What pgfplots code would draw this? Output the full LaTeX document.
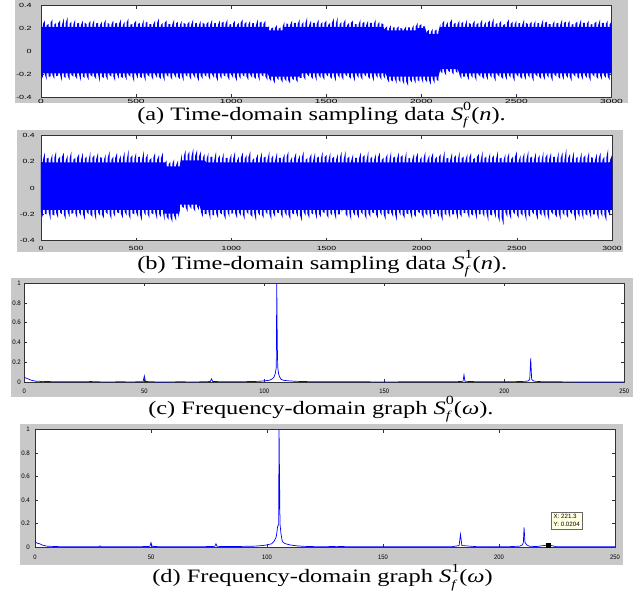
\documentclass[border=0pt]{standalone}
\usepackage{pgfplots}
\pgfplotsset{compat=1.18}
\usepackage{pgfplotstable}
\usepackage{graphicx}
\usepackage{fontspec}
\setmainfont{Liberation Serif}
\newfontfamily\tickfont{Liberation Sans}
\definecolor{mgray}{RGB}{200,200,200}
\definecolor{tipbg}{RGB}{255,255,225}
\definecolor{mblue}{RGB}{0,0,255}
\newcommand{\tla}{\tickfont\fontsize{6}{6}\selectfont}
\newcommand{\tlc}{\tickfont\fontsize{6.5}{6.5}\selectfont}
\newcommand{\Sf}[1]{\textit{S}\makebox[0pt][l]{\raisebox{-0.28em}{\fontsize{12}{12}\selectfont\textit{f}}}\raisebox{0.55em}{\fontsize{12.5}{12.5}\selectfont #1}}

% ---------- panel (a): main spikes (upper then lower) ----------
\pgfplotstableread[row sep=\\]{
x y\\
0 0.26\\ 20 0.27\\ 40 0.24\\ 60 0.28\\ 80 0.25\\ 100 0.27\\ 120 0.29\\ 140 0.30\\ 160 0.26\\ 180 0.28\\
200 0.25\\ 220 0.27\\ 240 0.24\\ 260 0.27\\ 280 0.28\\ 300 0.25\\ 320 0.26\\ 340 0.28\\ 360 0.24\\ 380 0.27\\
400 0.25\\ 420 0.28\\ 440 0.26\\ 460 0.29\\ 480 0.24\\ 500 0.27\\ 520 0.25\\ 540 0.28\\ 560 0.26\\ 580 0.24\\
600 0.27\\ 620 0.29\\ 640 0.25\\ 660 0.27\\ 680 0.24\\ 700 0.28\\ 720 0.26\\ 740 0.27\\ 760 0.24\\ 780 0.26\\
800 0.28\\ 820 0.25\\ 840 0.27\\ 860 0.24\\ 880 0.26\\ 900 0.28\\ 920 0.25\\ 940 0.27\\ 960 0.26\\ 980 0.28\\
1000 0.24\\ 1020 0.27\\ 1040 0.25\\ 1060 0.28\\ 1080 0.26\\ 1100 0.27\\ 1120 0.25\\ 1140 0.28\\ 1160 0.26\\ 1180 0.27\\
1200 0.22\\ 1220 0.21\\ 1240 0.23\\ 1260 0.21\\ 1280 0.26\\ 1300 0.24\\ 1320 0.27\\ 1340 0.25\\ 1360 0.28\\ 1380 0.26\\
1400 0.30\\ 1420 0.27\\ 1440 0.25\\ 1460 0.28\\ 1480 0.26\\ 1500 0.27\\ 1520 0.25\\ 1540 0.29\\ 1560 0.30\\ 1580 0.26\\
1600 0.28\\ 1620 0.25\\ 1640 0.27\\ 1660 0.24\\ 1680 0.28\\ 1700 0.26\\ 1720 0.27\\ 1740 0.25\\ 1760 0.28\\ 1780 0.26\\
1800 0.24\\ 1820 0.22\\ 1840 0.23\\ 1860 0.21\\ 1880 0.22\\ 1900 0.20\\ 1920 0.22\\ 1940 0.21\\ 1960 0.23\\ 1980 0.25\\
2000 0.24\\ 2020 0.22\\ 2040 0.19\\ 2060 0.20\\ 2080 0.19\\ 2100 0.24\\ 2120 0.27\\ 2140 0.26\\ 2160 0.28\\ 2180 0.25\\
2200 0.27\\ 2220 0.26\\ 2240 0.28\\ 2260 0.24\\ 2280 0.27\\ 2300 0.25\\ 2320 0.28\\ 2340 0.26\\ 2360 0.27\\ 2380 0.29\\
2400 0.25\\ 2420 0.27\\ 2440 0.24\\ 2460 0.28\\ 2480 0.26\\ 2500 0.27\\ 2520 0.25\\ 2540 0.28\\ 2560 0.24\\ 2580 0.26\\
2600 0.27\\ 2620 0.25\\ 2640 0.28\\ 2660 0.26\\ 2680 0.24\\ 2700 0.27\\ 2720 0.25\\ 2740 0.28\\ 2760 0.26\\ 2780 0.27\\
2800 0.24\\ 2820 0.26\\ 2840 0.28\\ 2860 0.25\\ 2880 0.27\\ 2900 0.24\\ 2920 0.26\\ 2940 0.28\\ 2960 0.25\\ 2980 0.27\\
3000 0.26\\
10 -0.23\\ 30 -0.25\\ 50 -0.22\\ 70 -0.24\\ 90 -0.21\\ 110 -0.26\\ 130 -0.23\\ 150 -0.25\\ 170 -0.22\\ 190 -0.24\\
210 -0.26\\ 230 -0.23\\ 250 -0.25\\ 270 -0.22\\ 290 -0.24\\ 310 -0.27\\ 330 -0.23\\ 350 -0.25\\ 370 -0.22\\ 390 -0.26\\
410 -0.24\\ 430 -0.23\\ 450 -0.25\\ 470 -0.22\\ 490 -0.27\\ 510 -0.24\\ 530 -0.23\\ 550 -0.26\\ 570 -0.22\\ 590 -0.25\\
610 -0.23\\ 630 -0.24\\ 650 -0.26\\ 670 -0.22\\ 690 -0.25\\ 710 -0.23\\ 730 -0.24\\ 750 -0.26\\ 770 -0.22\\ 790 -0.25\\
810 -0.23\\ 830 -0.26\\ 850 -0.24\\ 870 -0.22\\ 890 -0.25\\ 910 -0.23\\ 930 -0.26\\ 950 -0.24\\ 970 -0.22\\ 990 -0.25\\
1010 -0.23\\ 1030 -0.26\\ 1050 -0.24\\ 1070 -0.22\\ 1090 -0.25\\ 1110 -0.23\\ 1130 -0.24\\ 1150 -0.26\\ 1170 -0.22\\ 1190 -0.25\\
1210 -0.26\\ 1230 -0.28\\ 1250 -0.25\\ 1270 -0.27\\ 1290 -0.26\\ 1310 -0.28\\ 1330 -0.25\\ 1350 -0.27\\ 1370 -0.23\\ 1390 -0.25\\
1410 -0.22\\ 1430 -0.24\\ 1450 -0.26\\ 1470 -0.23\\ 1490 -0.25\\ 1510 -0.22\\ 1530 -0.24\\ 1550 -0.26\\ 1570 -0.23\\ 1590 -0.25\\
1610 -0.22\\ 1630 -0.24\\ 1650 -0.26\\ 1670 -0.23\\ 1690 -0.25\\ 1710 -0.22\\ 1730 -0.24\\ 1750 -0.26\\ 1770 -0.23\\ 1790 -0.25\\
1810 -0.24\\ 1830 -0.27\\ 1850 -0.26\\ 1870 -0.28\\ 1890 -0.27\\ 1910 -0.29\\ 1930 -0.30\\ 1950 -0.27\\ 1970 -0.28\\ 1990 -0.26\\
2010 -0.28\\ 2030 -0.27\\ 2050 -0.29\\ 2070 -0.28\\ 2090 -0.26\\ 2110 -0.19\\ 2130 -0.21\\ 2150 -0.18\\ 2170 -0.20\\ 2190 -0.19\\
2210 -0.24\\ 2230 -0.22\\ 2250 -0.25\\ 2270 -0.23\\ 2290 -0.26\\ 2310 -0.22\\ 2330 -0.24\\ 2350 -0.25\\ 2370 -0.23\\ 2390 -0.26\\
2410 -0.22\\ 2430 -0.24\\ 2450 -0.25\\ 2470 -0.23\\ 2490 -0.26\\ 2510 -0.22\\ 2530 -0.24\\ 2550 -0.25\\ 2570 -0.23\\ 2590 -0.26\\
2610 -0.22\\ 2630 -0.24\\ 2650 -0.25\\ 2670 -0.23\\ 2690 -0.26\\ 2710 -0.22\\ 2730 -0.24\\ 2750 -0.25\\ 2770 -0.23\\ 2790 -0.26\\
2810 -0.22\\ 2830 -0.24\\ 2850 -0.25\\ 2870 -0.23\\ 2890 -0.26\\ 2910 -0.22\\ 2930 -0.24\\ 2950 -0.25\\ 2970 -0.23\\ 2990 -0.25\\
}\spikesA

% ---------- panel (a): small spikes between (upper then lower) ----------
\pgfplotstableread[row sep=\\]{
x y\\
10 0.24\\ 30 0.23\\ 50 0.25\\ 70 0.235\\ 90 0.245\\ 110 0.23\\ 130 0.25\\ 150 0.24\\ 170 0.235\\ 190 0.245\\
210 0.23\\ 230 0.25\\ 250 0.24\\ 270 0.235\\ 290 0.245\\ 310 0.23\\ 330 0.24\\ 350 0.25\\ 370 0.235\\ 390 0.245\\
410 0.24\\ 430 0.23\\ 450 0.25\\ 470 0.235\\ 490 0.245\\ 510 0.24\\ 530 0.23\\ 550 0.25\\ 570 0.24\\ 590 0.235\\
610 0.245\\ 630 0.23\\ 650 0.25\\ 670 0.24\\ 690 0.235\\ 710 0.245\\ 730 0.23\\ 750 0.25\\ 770 0.24\\ 790 0.235\\
810 0.245\\ 830 0.23\\ 850 0.25\\ 870 0.24\\ 890 0.235\\ 910 0.245\\ 930 0.23\\ 950 0.25\\ 970 0.24\\ 990 0.235\\
1010 0.245\\ 1030 0.23\\ 1050 0.25\\ 1070 0.24\\ 1090 0.235\\ 1110 0.245\\ 1130 0.23\\ 1150 0.25\\ 1170 0.24\\ 1190 0.21\\
1210 0.20\\ 1230 0.205\\ 1250 0.20\\ 1270 0.21\\ 1290 0.245\\ 1310 0.23\\ 1330 0.25\\ 1350 0.24\\ 1370 0.235\\ 1390 0.245\\
1410 0.23\\ 1430 0.25\\ 1450 0.24\\ 1470 0.235\\ 1490 0.245\\ 1510 0.23\\ 1530 0.25\\ 1550 0.24\\ 1570 0.235\\ 1590 0.245\\
1610 0.23\\ 1630 0.25\\ 1650 0.24\\ 1670 0.235\\ 1690 0.245\\ 1710 0.23\\ 1730 0.25\\ 1750 0.24\\ 1770 0.235\\ 1790 0.245\\
1810 0.205\\ 1830 0.20\\ 1850 0.21\\ 1870 0.20\\ 1890 0.205\\ 1910 0.195\\ 1930 0.21\\ 1950 0.20\\ 1970 0.215\\ 1990 0.225\\
2010 0.22\\ 2030 0.175\\ 2050 0.17\\ 2070 0.18\\ 2090 0.175\\ 2110 0.245\\ 2130 0.23\\ 2150 0.25\\ 2170 0.24\\ 2190 0.235\\
2210 0.245\\ 2230 0.23\\ 2250 0.25\\ 2270 0.24\\ 2290 0.235\\ 2310 0.245\\ 2330 0.23\\ 2350 0.25\\ 2370 0.24\\ 2390 0.235\\
2410 0.245\\ 2430 0.23\\ 2450 0.25\\ 2470 0.24\\ 2490 0.235\\ 2510 0.245\\ 2530 0.23\\ 2550 0.25\\ 2570 0.24\\ 2590 0.235\\
2610 0.245\\ 2630 0.23\\ 2650 0.25\\ 2670 0.24\\ 2690 0.235\\ 2710 0.245\\ 2730 0.23\\ 2750 0.25\\ 2770 0.24\\ 2790 0.235\\
2810 0.245\\ 2830 0.23\\ 2850 0.25\\ 2870 0.24\\ 2890 0.235\\ 2910 0.245\\ 2930 0.23\\ 2950 0.25\\ 2970 0.24\\ 2990 0.235\\
0 -0.21\\ 20 -0.20\\ 40 -0.22\\ 60 -0.205\\ 80 -0.215\\ 100 -0.20\\ 120 -0.22\\ 140 -0.21\\ 160 -0.205\\ 180 -0.215\\
200 -0.20\\ 220 -0.22\\ 240 -0.21\\ 260 -0.205\\ 280 -0.215\\ 300 -0.20\\ 320 -0.22\\ 340 -0.21\\ 360 -0.205\\ 380 -0.215\\
400 -0.20\\ 420 -0.22\\ 440 -0.21\\ 460 -0.205\\ 480 -0.215\\ 500 -0.20\\ 520 -0.22\\ 540 -0.21\\ 560 -0.205\\ 580 -0.215\\
600 -0.20\\ 620 -0.22\\ 640 -0.21\\ 660 -0.205\\ 680 -0.215\\ 700 -0.20\\ 720 -0.22\\ 740 -0.21\\ 760 -0.205\\ 780 -0.215\\
800 -0.20\\ 820 -0.22\\ 840 -0.21\\ 860 -0.205\\ 880 -0.215\\ 900 -0.20\\ 920 -0.22\\ 940 -0.21\\ 960 -0.205\\ 980 -0.215\\
1000 -0.20\\ 1020 -0.22\\ 1040 -0.21\\ 1060 -0.205\\ 1080 -0.215\\ 1100 -0.20\\ 1120 -0.22\\ 1140 -0.21\\ 1160 -0.205\\ 1180 -0.215\\
1200 -0.235\\ 1220 -0.245\\ 1240 -0.23\\ 1260 -0.24\\ 1280 -0.235\\ 1300 -0.25\\ 1320 -0.235\\ 1340 -0.245\\ 1360 -0.23\\ 1380 -0.215\\
1400 -0.20\\ 1420 -0.22\\ 1440 -0.21\\ 1460 -0.205\\ 1480 -0.215\\ 1500 -0.20\\ 1520 -0.22\\ 1540 -0.21\\ 1560 -0.205\\ 1580 -0.215\\
1600 -0.20\\ 1620 -0.22\\ 1640 -0.21\\ 1660 -0.205\\ 1680 -0.215\\ 1700 -0.20\\ 1720 -0.22\\ 1740 -0.21\\ 1760 -0.205\\ 1780 -0.215\\
1800 -0.21\\ 1820 -0.24\\ 1840 -0.25\\ 1860 -0.235\\ 1880 -0.245\\ 1900 -0.25\\ 1920 -0.26\\ 1940 -0.245\\ 1960 -0.24\\ 1980 -0.25\\
2000 -0.235\\ 2020 -0.245\\ 2040 -0.25\\ 2060 -0.24\\ 2080 -0.245\\ 2100 -0.17\\ 2120 -0.175\\ 2140 -0.165\\ 2160 -0.18\\ 2180 -0.17\\
2200 -0.20\\ 2220 -0.22\\ 2240 -0.21\\ 2260 -0.205\\ 2280 -0.215\\ 2300 -0.20\\ 2320 -0.22\\ 2340 -0.21\\ 2360 -0.205\\ 2380 -0.215\\
2400 -0.20\\ 2420 -0.22\\ 2440 -0.21\\ 2460 -0.205\\ 2480 -0.215\\ 2500 -0.20\\ 2520 -0.22\\ 2540 -0.21\\ 2560 -0.205\\ 2580 -0.215\\
2600 -0.20\\ 2620 -0.22\\ 2640 -0.21\\ 2660 -0.205\\ 2680 -0.215\\ 2700 -0.20\\ 2720 -0.22\\ 2740 -0.21\\ 2760 -0.205\\ 2780 -0.215\\
2800 -0.20\\ 2820 -0.22\\ 2840 -0.21\\ 2860 -0.205\\ 2880 -0.215\\ 2900 -0.20\\ 2920 -0.22\\ 2940 -0.21\\ 2960 -0.205\\ 2980 -0.215\\
3000 -0.21\\
}\smallA

% ---------- panel (b): main spikes ----------
\pgfplotstableread[row sep=\\]{
x y\\
0 0.25\\ 20 0.27\\ 40 0.23\\ 60 0.26\\ 80 0.28\\ 100 0.24\\ 120 0.27\\ 140 0.25\\ 160 0.28\\ 180 0.23\\
200 0.26\\ 220 0.27\\ 240 0.24\\ 260 0.28\\ 280 0.25\\ 300 0.27\\ 320 0.23\\ 340 0.26\\ 360 0.28\\ 380 0.24\\
400 0.27\\ 420 0.25\\ 440 0.28\\ 460 0.29\\ 480 0.25\\ 500 0.27\\ 520 0.24\\ 540 0.28\\ 560 0.26\\ 580 0.23\\
600 0.27\\ 620 0.25\\ 640 0.27\\ 660 0.21\\ 680 0.20\\ 700 0.22\\ 720 0.21\\ 740 0.26\\ 760 0.29\\ 780 0.28\\
800 0.30\\ 820 0.29\\ 840 0.28\\ 860 0.26\\ 880 0.27\\ 900 0.24\\ 920 0.28\\ 940 0.25\\ 960 0.27\\ 980 0.23\\
1000 0.26\\ 1020 0.28\\ 1040 0.24\\ 1060 0.27\\ 1080 0.25\\ 1100 0.28\\ 1120 0.23\\ 1140 0.26\\ 1160 0.27\\ 1180 0.24\\
1200 0.28\\ 1220 0.25\\ 1240 0.27\\ 1260 0.23\\ 1280 0.26\\ 1300 0.28\\ 1320 0.24\\ 1340 0.27\\ 1360 0.25\\ 1380 0.28\\
1400 0.23\\ 1420 0.26\\ 1440 0.27\\ 1460 0.24\\ 1480 0.28\\ 1500 0.25\\ 1520 0.27\\ 1540 0.24\\ 1560 0.26\\ 1580 0.28\\
1600 0.28\\ 1620 0.24\\ 1640 0.26\\ 1660 0.23\\ 1680 0.27\\ 1700 0.25\\ 1720 0.28\\ 1740 0.24\\ 1760 0.26\\ 1780 0.27\\
1800 0.23\\ 1820 0.26\\ 1840 0.28\\ 1860 0.24\\ 1880 0.27\\ 1900 0.25\\ 1920 0.28\\ 1940 0.23\\ 1960 0.26\\ 1980 0.27\\
2000 0.24\\ 2020 0.28\\ 2040 0.25\\ 2060 0.27\\ 2080 0.24\\ 2100 0.26\\ 2120 0.28\\ 2140 0.23\\ 2160 0.27\\ 2180 0.25\\
2200 0.28\\ 2220 0.24\\ 2240 0.26\\ 2260 0.27\\ 2280 0.23\\ 2300 0.26\\ 2320 0.28\\ 2340 0.24\\ 2360 0.27\\ 2380 0.25\\
2400 0.28\\ 2420 0.23\\ 2440 0.26\\ 2460 0.27\\ 2480 0.24\\ 2500 0.28\\ 2520 0.25\\ 2540 0.27\\ 2560 0.28\\ 2580 0.24\\
2600 0.27\\ 2620 0.25\\ 2640 0.28\\ 2660 0.26\\ 2680 0.27\\ 2700 0.24\\ 2720 0.28\\ 2740 0.27\\ 2760 0.30\\ 2780 0.26\\
2800 0.28\\ 2820 0.24\\ 2840 0.27\\ 2860 0.25\\ 2880 0.28\\ 2900 0.23\\ 2920 0.26\\ 2940 0.27\\ 2960 0.24\\ 2980 0.30\\
3000 0.25\\
10 -0.22\\ 30 -0.20\\ 50 -0.24\\ 70 -0.21\\ 90 -0.23\\ 110 -0.20\\ 130 -0.24\\ 150 -0.22\\ 170 -0.19\\ 190 -0.23\\
210 -0.21\\ 230 -0.24\\ 250 -0.20\\ 270 -0.22\\ 290 -0.25\\ 310 -0.21\\ 330 -0.23\\ 350 -0.20\\ 370 -0.24\\ 390 -0.22\\
410 -0.19\\ 430 -0.23\\ 450 -0.21\\ 470 -0.24\\ 490 -0.20\\ 510 -0.22\\ 530 -0.25\\ 550 -0.21\\ 570 -0.23\\ 590 -0.20\\
610 -0.24\\ 630 -0.22\\ 650 -0.25\\ 670 -0.24\\ 690 -0.26\\ 710 -0.25\\ 730 -0.17\\ 750 -0.15\\ 770 -0.18\\ 790 -0.16\\
810 -0.18\\ 830 -0.17\\ 850 -0.22\\ 870 -0.20\\ 890 -0.24\\ 910 -0.21\\ 930 -0.23\\ 950 -0.20\\ 970 -0.24\\ 990 -0.22\\
1010 -0.19\\ 1030 -0.23\\ 1050 -0.21\\ 1070 -0.24\\ 1090 -0.20\\ 1110 -0.22\\ 1130 -0.25\\ 1150 -0.21\\ 1170 -0.23\\ 1190 -0.20\\
1210 -0.24\\ 1230 -0.22\\ 1250 -0.19\\ 1270 -0.23\\ 1290 -0.21\\ 1310 -0.24\\ 1330 -0.20\\ 1350 -0.22\\ 1370 -0.25\\ 1390 -0.21\\
1410 -0.23\\ 1430 -0.20\\ 1450 -0.24\\ 1470 -0.22\\ 1490 -0.19\\ 1510 -0.23\\ 1530 -0.21\\ 1550 -0.24\\ 1570 -0.20\\ 1590 -0.15\\
1610 -0.22\\ 1630 -0.25\\ 1650 -0.21\\ 1670 -0.23\\ 1690 -0.20\\ 1710 -0.24\\ 1730 -0.22\\ 1750 -0.19\\ 1770 -0.23\\ 1790 -0.21\\
1810 -0.24\\ 1830 -0.20\\ 1850 -0.22\\ 1870 -0.25\\ 1890 -0.21\\ 1910 -0.23\\ 1930 -0.20\\ 1950 -0.24\\ 1970 -0.22\\ 1990 -0.19\\
2010 -0.23\\ 2030 -0.21\\ 2050 -0.24\\ 2070 -0.20\\ 2090 -0.22\\ 2110 -0.25\\ 2130 -0.21\\ 2150 -0.23\\ 2170 -0.20\\ 2190 -0.24\\
2210 -0.22\\ 2230 -0.19\\ 2250 -0.23\\ 2270 -0.21\\ 2290 -0.24\\ 2310 -0.20\\ 2330 -0.22\\ 2350 -0.25\\ 2370 -0.21\\ 2390 -0.23\\
2410 -0.26\\ 2430 -0.28\\ 2450 -0.22\\ 2470 -0.24\\ 2490 -0.20\\ 2510 -0.23\\ 2530 -0.21\\ 2550 -0.25\\ 2570 -0.22\\ 2590 -0.20\\
2610 -0.24\\ 2630 -0.21\\ 2650 -0.23\\ 2670 -0.25\\ 2690 -0.20\\ 2710 -0.22\\ 2730 -0.24\\ 2750 -0.21\\ 2770 -0.23\\ 2790 -0.20\\
2810 -0.25\\ 2830 -0.22\\ 2850 -0.24\\ 2870 -0.21\\ 2890 -0.23\\ 2910 -0.20\\ 2930 -0.24\\ 2950 -0.22\\ 2970 -0.25\\ 2990 -0.21\\
}\spikesB

% ---------- panel (b): small spikes between ----------
\pgfplotstableread[row sep=\\]{
x y\\
10 0.215\\ 30 0.225\\ 50 0.21\\ 70 0.23\\ 90 0.22\\ 110 0.235\\ 130 0.21\\ 150 0.225\\ 170 0.215\\ 190 0.23\\
210 0.215\\ 230 0.225\\ 250 0.21\\ 270 0.23\\ 290 0.22\\ 310 0.235\\ 330 0.21\\ 350 0.225\\ 370 0.215\\ 390 0.23\\
410 0.215\\ 430 0.225\\ 450 0.21\\ 470 0.23\\ 490 0.22\\ 510 0.235\\ 530 0.21\\ 550 0.225\\ 570 0.215\\ 590 0.23\\
610 0.215\\ 630 0.225\\ 650 0.19\\ 670 0.18\\ 690 0.185\\ 710 0.175\\ 730 0.18\\ 750 0.24\\ 770 0.25\\ 790 0.235\\
810 0.245\\ 830 0.24\\ 850 0.23\\ 870 0.22\\ 890 0.235\\ 910 0.21\\ 930 0.225\\ 950 0.215\\ 970 0.23\\ 990 0.215\\
1010 0.225\\ 1030 0.21\\ 1050 0.23\\ 1070 0.22\\ 1090 0.235\\ 1110 0.21\\ 1130 0.225\\ 1150 0.215\\ 1170 0.23\\ 1190 0.215\\
1210 0.225\\ 1230 0.21\\ 1250 0.23\\ 1270 0.22\\ 1290 0.235\\ 1310 0.21\\ 1330 0.225\\ 1350 0.215\\ 1370 0.23\\ 1390 0.215\\
1410 0.225\\ 1430 0.21\\ 1450 0.23\\ 1470 0.22\\ 1490 0.235\\ 1510 0.21\\ 1530 0.225\\ 1550 0.215\\ 1570 0.23\\ 1590 0.215\\
1610 0.225\\ 1630 0.21\\ 1650 0.23\\ 1670 0.22\\ 1690 0.235\\ 1710 0.21\\ 1730 0.225\\ 1750 0.215\\ 1770 0.23\\ 1790 0.215\\
1810 0.225\\ 1830 0.21\\ 1850 0.23\\ 1870 0.22\\ 1890 0.235\\ 1910 0.21\\ 1930 0.225\\ 1950 0.215\\ 1970 0.23\\ 1990 0.215\\
2010 0.225\\ 2030 0.21\\ 2050 0.23\\ 2070 0.22\\ 2090 0.235\\ 2110 0.21\\ 2130 0.225\\ 2150 0.215\\ 2170 0.23\\ 2190 0.215\\
2210 0.225\\ 2230 0.21\\ 2250 0.23\\ 2270 0.22\\ 2290 0.235\\ 2310 0.21\\ 2330 0.225\\ 2350 0.215\\ 2370 0.23\\ 2390 0.215\\
2410 0.225\\ 2430 0.21\\ 2450 0.23\\ 2470 0.22\\ 2490 0.235\\ 2510 0.21\\ 2530 0.225\\ 2550 0.215\\ 2570 0.23\\ 2590 0.215\\
2610 0.225\\ 2630 0.21\\ 2650 0.23\\ 2670 0.22\\ 2690 0.235\\ 2710 0.21\\ 2730 0.225\\ 2750 0.215\\ 2770 0.23\\ 2790 0.215\\
2810 0.225\\ 2830 0.21\\ 2850 0.23\\ 2870 0.22\\ 2890 0.235\\ 2910 0.21\\ 2930 0.225\\ 2950 0.215\\ 2970 0.23\\ 2990 0.215\\
0 -0.185\\ 20 -0.195\\ 40 -0.18\\ 60 -0.20\\ 80 -0.19\\ 100 -0.185\\ 120 -0.20\\ 140 -0.18\\ 160 -0.195\\ 180 -0.19\\
200 -0.185\\ 220 -0.195\\ 240 -0.18\\ 260 -0.20\\ 280 -0.19\\ 300 -0.185\\ 320 -0.20\\ 340 -0.18\\ 360 -0.195\\ 380 -0.19\\
400 -0.185\\ 420 -0.195\\ 440 -0.18\\ 460 -0.20\\ 480 -0.19\\ 500 -0.185\\ 520 -0.20\\ 540 -0.18\\ 560 -0.195\\ 580 -0.19\\
600 -0.185\\ 620 -0.195\\ 640 -0.18\\ 660 -0.215\\ 680 -0.22\\ 700 -0.21\\ 720 -0.225\\ 740 -0.14\\ 760 -0.145\\ 780 -0.135\\
800 -0.15\\ 820 -0.14\\ 840 -0.18\\ 860 -0.195\\ 880 -0.18\\ 900 -0.20\\ 920 -0.19\\ 940 -0.185\\ 960 -0.20\\ 980 -0.18\\
1000 -0.195\\ 1020 -0.19\\ 1040 -0.185\\ 1060 -0.195\\ 1080 -0.18\\ 1100 -0.20\\ 1120 -0.19\\ 1140 -0.185\\ 1160 -0.20\\ 1180 -0.18\\
1200 -0.195\\ 1220 -0.19\\ 1240 -0.185\\ 1260 -0.195\\ 1280 -0.18\\ 1300 -0.20\\ 1320 -0.19\\ 1340 -0.185\\ 1360 -0.20\\ 1380 -0.18\\
1400 -0.195\\ 1420 -0.19\\ 1440 -0.185\\ 1460 -0.195\\ 1480 -0.18\\ 1500 -0.20\\ 1520 -0.19\\ 1540 -0.185\\ 1560 -0.20\\ 1580 -0.18\\
1600 -0.195\\ 1620 -0.19\\ 1640 -0.185\\ 1660 -0.195\\ 1680 -0.18\\ 1700 -0.20\\ 1720 -0.19\\ 1740 -0.185\\ 1760 -0.20\\ 1780 -0.18\\
1800 -0.195\\ 1820 -0.19\\ 1840 -0.185\\ 1860 -0.195\\ 1880 -0.18\\ 1900 -0.20\\ 1920 -0.19\\ 1940 -0.185\\ 1960 -0.20\\ 1980 -0.18\\
2000 -0.195\\ 2020 -0.19\\ 2040 -0.185\\ 2060 -0.195\\ 2080 -0.18\\ 2100 -0.20\\ 2120 -0.19\\ 2140 -0.185\\ 2160 -0.20\\ 2180 -0.18\\
2200 -0.195\\ 2220 -0.19\\ 2240 -0.185\\ 2260 -0.195\\ 2280 -0.18\\ 2300 -0.20\\ 2320 -0.19\\ 2340 -0.185\\ 2360 -0.20\\ 2380 -0.18\\
2400 -0.21\\ 2420 -0.22\\ 2440 -0.185\\ 2460 -0.195\\ 2480 -0.18\\ 2500 -0.20\\ 2520 -0.19\\ 2540 -0.185\\ 2560 -0.20\\ 2580 -0.18\\
2600 -0.195\\ 2620 -0.19\\ 2640 -0.185\\ 2660 -0.195\\ 2680 -0.18\\ 2700 -0.20\\ 2720 -0.19\\ 2740 -0.185\\ 2760 -0.20\\ 2780 -0.18\\
2800 -0.195\\ 2820 -0.19\\ 2840 -0.185\\ 2860 -0.195\\ 2880 -0.18\\ 2900 -0.20\\ 2920 -0.19\\ 2940 -0.185\\ 2960 -0.20\\ 2980 -0.18\\
3000 -0.19\\
}\smallB

% merge and sort the spike tables by x
\pgfplotstablevertcat{\spikesA}{\smallA}
\pgfplotstablesort[sort key=x]{\sortedA}{\spikesA}
\pgfplotstablevertcat{\spikesB}{\smallB}
\pgfplotstablesort[sort key=x]{\sortedB}{\spikesB}

% ---------- panel (c): spectrum ----------
\pgfplotstableread[row sep=\\]{
x y\\
0 0.05\\ 0.5 0.045\\ 1 0.04\\ 1.5 0.035\\ 2 0.03\\ 3 0.02\\ 4 0.015\\ 5 0.01\\ 6 0.012\\ 7 0.008\\ 8 0.01\\ 9 0.007\\
10 0.008\\ 12 0.006\\ 15 0.005\\ 20 0.005\\ 25 0.005\\ 28 0.008\\ 29 0.005\\ 35 0.004\\ 40 0.005\\ 45 0.004\\
49.5 0.006\\ 50 0.065\\ 50.5 0.008\\ 55 0.004\\ 60 0.004\\ 65 0.005\\ 70 0.004\\ 75 0.005\\ 77.5 0.008\\ 78 0.035\\ 78.5 0.008\\
85 0.005\\ 90 0.006\\ 95 0.008\\ 98 0.01\\ 100 0.015\\ 102 0.02\\ 103 0.03\\ 104 0.05\\ 104.6 0.09\\ 105 0.15\\
105.2 1.0\\ 105.4 0.39\\ 105.6 0.15\\ 106 0.08\\ 106.5 0.05\\ 107 0.03\\ 108 0.02\\ 110 0.015\\ 113 0.01\\ 116 0.008\\
120 0.006\\ 130 0.005\\ 140 0.005\\ 150 0.004\\ 160 0.005\\ 170 0.005\\ 180 0.006\\ 182.8 0.01\\ 183.2 0.075\\ 183.6 0.01\\
190 0.005\\ 200 0.006\\ 205 0.007\\ 209 0.01\\ 210 0.015\\ 210.6 0.03\\ 211 0.24\\ 211.4 0.03\\ 212 0.015\\ 213 0.01\\
216 0.006\\ 220 0.005\\ 230 0.004\\ 240 0.004\\ 250 0.004\\
}\specC

% ---------- panel (d): spectrum ----------
\pgfplotstableread[row sep=\\]{
x y\\
0 0.05\\ 0.5 0.04\\ 1 0.035\\ 2 0.03\\ 3 0.02\\ 4 0.015\\ 5 0.01\\ 7 0.008\\ 10 0.006\\ 15 0.005\\ 20 0.005\\
27.5 0.005\\ 28 0.012\\ 28.5 0.005\\ 35 0.004\\ 40 0.005\\ 45 0.005\\ 49.5 0.008\\ 50 0.04\\ 50.5 0.008\\ 55 0.004\\
65 0.005\\ 70 0.004\\ 77.5 0.008\\ 78 0.03\\ 78.5 0.008\\ 85 0.006\\ 90 0.008\\ 95 0.01\\ 98 0.015\\ 100 0.02\\
102 0.03\\ 103 0.05\\ 104 0.09\\ 104.6 0.18\\ 105 0.19\\ 105.2 1.0\\ 105.4 0.59\\ 105.6 0.2\\ 106 0.12\\ 106.5 0.06\\
107 0.04\\ 108 0.03\\ 110 0.02\\ 113 0.012\\ 116 0.008\\ 120 0.006\\ 125 0.005\\ 130 0.008\\ 135 0.005\\ 150 0.004\\
160 0.005\\ 170 0.005\\ 180 0.006\\ 182.8 0.015\\ 183.4 0.11\\ 184 0.015\\ 190 0.006\\ 200 0.005\\ 205 0.006\\
209 0.01\\ 210 0.02\\ 210.5 0.04\\ 210.8 0.17\\ 211.2 0.04\\ 212 0.02\\ 213 0.01\\ 216 0.006\\ 221.3 0.0204\\
225 0.004\\ 230 0.004\\ 240 0.004\\ 250 0.004\\
}\specD

\pgfplotsset{
  mstyle/.style={
    scale only axis, anchor=south west, tick align=inside,
    axis background/.style={fill=white},
    axis line style={black!80, line width=0.6bp},
    every tick/.style={black!80, line width=0.5bp},
    major tick length=3bp,
    /pgf/number format/assume math mode=true,
  },
  tstyle/.style={
    xmin=0, xmax=3000, ymin=-0.4, ymax=0.4,
    xtick={0,500,1000,1500,2000,2500,3000},
    xticklabels={0,500,1000,1500,2000,2500,3000},
    ytick={-0.4,-0.2,0,0.2,0.4},
    yticklabels={-0.4,-0.2,0,0.2,0.4},
  },
  fstyle/.style={
    xmin=0, xmax=250, ymin=0, ymax=1,
    xtick={0,50,100,150,200,250},
    xticklabels={0,50,100,150,200,250},
    ytick={0,0.2,0.4,0.6,0.8,1},
    yticklabels={0,0.2,0.4,0.6,0.8,1},
  },
  % upper edge: the lower-edge rows at the same x fall back to 0.1 (inside the solid core)
  bandup/.style={fill=mblue, draw=none, y filter/.expression={y>0 ? y : 0.1}},
  banddown/.style={fill=mblue, draw=none, y filter/.expression={y<0 ? y : -0.1}},
}
\tikzset{captionnode/.style={anchor=west, inner sep=0pt, font=\fontsize{19}{20}\selectfont, xscale=1.29}}

\begin{document}
\begin{tikzpicture}
\path[use as bounding box] (0,0) rectangle (641bp,-599bp);
\fill[white] (0,0) rectangle (641bp,-599bp);
% gray figure backgrounds
\fill[mgray] (15bp,0bp) rectangle (628bp,-103bp);
\fill[mgray] (17bp,-130bp) rectangle (623bp,-252bp);
\fill[mgray] (11bp,-278bp) rectangle (633bp,-397bp);
\fill[mgray] (20bp,-424bp) rectangle (623bp,-565bp);

% (a)
\begin{axis}[mstyle, tstyle, at={(41bp,-97.3bp)}, width=570.5bp, height=91.6bp,
  xticklabel style={font=\tla, inner sep=0pt, yshift=-1.7bp, xscale=1.7},
  yticklabel style={font=\tla, inner sep=0pt, xshift=-9bp, xscale=1.5}]
\addplot[fill=mblue, draw=none] coordinates {(0,0.215) (1190,0.215) (1200,0.185) (1270,0.185) (1280,0.215) (1800,0.215) (1810,0.185) (1970,0.185) (1980,0.205) (2020,0.205) (2030,0.155) (2090,0.155) (2100,0.215) (3000,0.215) (3000,-0.19) (2200,-0.19) (2190,-0.155) (2100,-0.155) (2090,-0.22) (1820,-0.22) (1810,-0.19) (1370,-0.19) (1360,-0.22) (1200,-0.22) (1190,-0.19) (0,-0.19)} -- cycle;
\addplot[bandup] table {\sortedA} \closedcycle;
\addplot[banddown] table {\sortedA} \closedcycle;
\end{axis}

% (b)
\begin{axis}[mstyle, tstyle, at={(41bp,-240.7bp)}, width=571bp, height=105.2bp,
  xticklabel style={font=\tla, inner sep=0pt, yshift=-5.3bp, xscale=1.45},
  yticklabel style={font=\tla, inner sep=0pt, xshift=-6bp, xscale=1.45}]
\addplot[fill=mblue, draw=none] coordinates {(0,0.195) (650,0.195) (660,0.165) (730,0.165) (740,0.21) (860,0.21) (870,0.195) (3000,0.195) (3000,-0.165) (840,-0.165) (830,-0.125) (730,-0.125) (720,-0.195) (650,-0.195) (640,-0.165) (0,-0.165)} -- cycle;
\addplot[bandup] table {\sortedB} \closedcycle;
\addplot[banddown] table {\sortedB} \closedcycle;
\end{axis}

% (c)
\begin{axis}[mstyle, fstyle, at={(24.3bp,-382.3bp)}, width=600bp, height=99.3bp,
  xticklabel style={font=\tlc, inner sep=0pt, yshift=-6bp, xscale=0.9},
  yticklabel style={font=\tlc, inner sep=0pt, xshift=-3.3bp, xscale=0.95}]
\addplot[mblue, line width=0.7bp] table {\specC};
\end{axis}

% (d)
\begin{axis}[mstyle, fstyle, at={(35bp,-547.3bp)}, width=580bp, height=117.8bp,
  xticklabel style={font=\tlc, inner sep=0pt, yshift=-7bp, xscale=0.9},
  yticklabel style={font=\tlc, inner sep=0pt, xshift=-5bp, xscale=0.95}]
\addplot[mblue, line width=0.7bp] table {\specD};
\addplot[only marks, mark=square*, mark size=2.2bp, black] coordinates {(221.3,0.0204)};
\node[draw=black!60, fill=tipbg, anchor=south west, align=left, inner sep=2bp,
  font=\tickfont\fontsize{6.2}{8}\selectfont, xshift=3bp, yshift=16bp]
  at (axis cs:221.3,0.0204) {X: 221.3\\Y: 0.0204};
\end{axis}

% captions
\node[captionnode] at (137bp,-115bp) {(a) Time-domain sampling data \Sf{0}(\textit{n}).};
\node[captionnode] at (137bp,-264bp) {(b) Time-domain sampling data \Sf{1}(\textit{n}).};
\node[captionnode] at (148bp,-409bp) {(c) Frequency-domain graph \Sf{0}(\textit{ω}).};
\node[captionnode] at (152bp,-577.5bp) {(d) Frequency-domain graph \Sf{1}(\textit{ω})};
\end{tikzpicture}
\end{document}
